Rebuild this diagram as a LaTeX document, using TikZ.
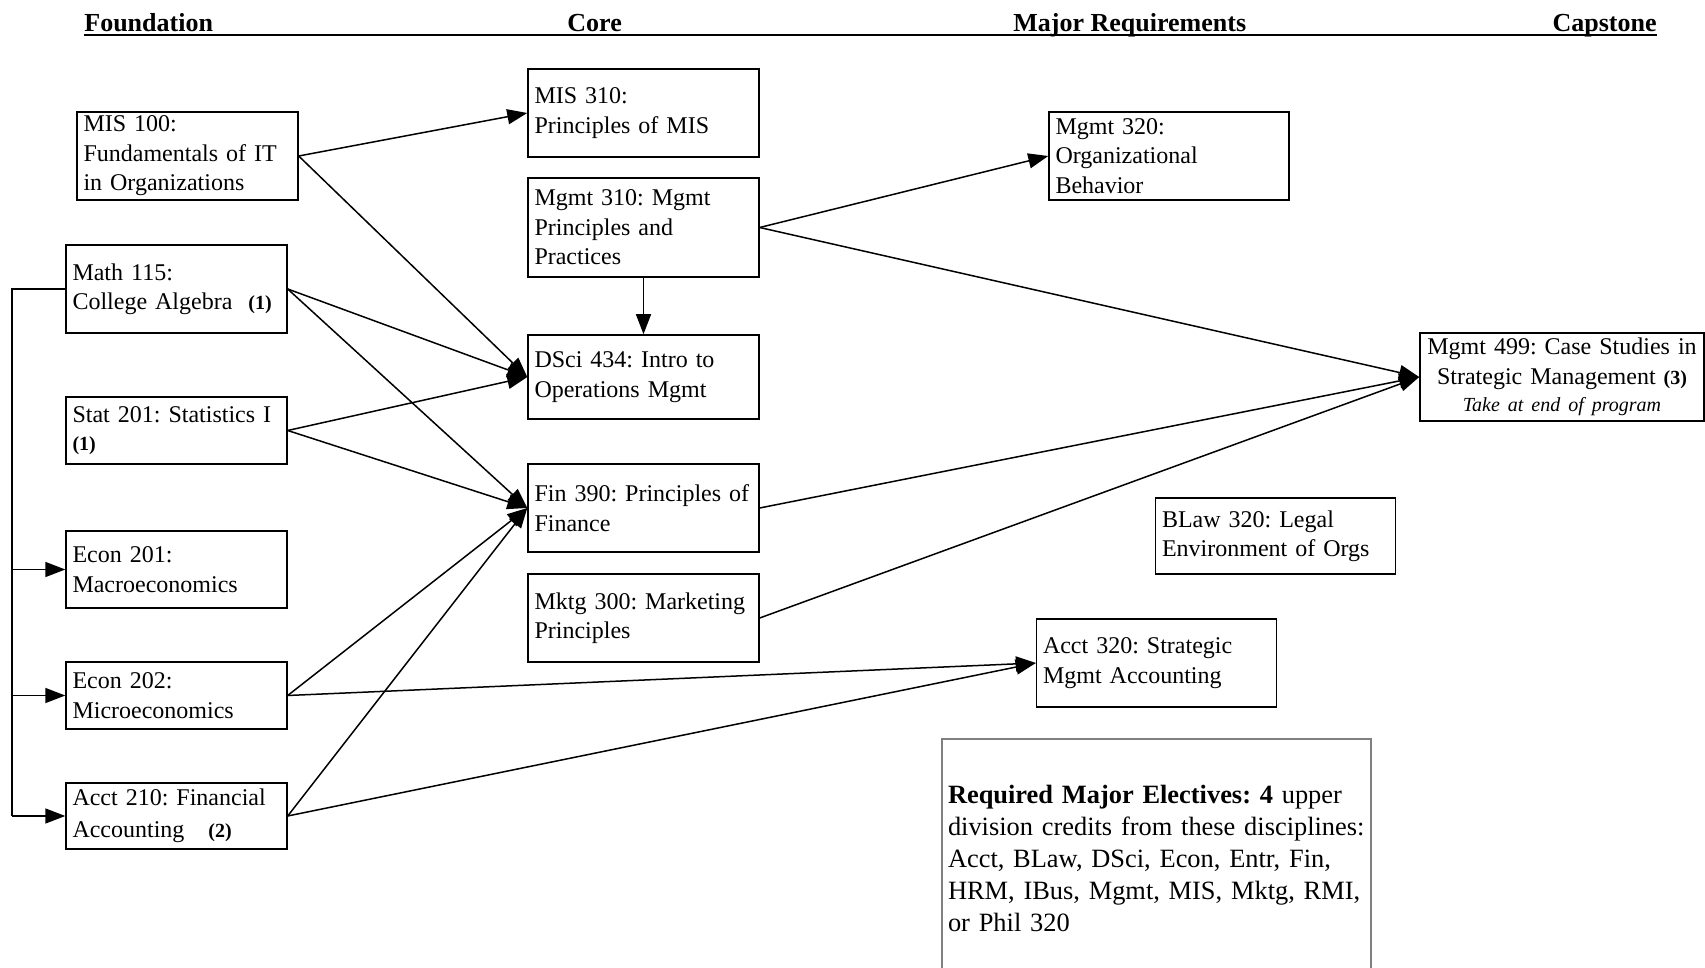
\documentclass[tikz,border=0pt]{standalone}
\usepackage{fontspec}
\setmainfont{Liberation Serif}
\usetikzlibrary{arrows.meta}
\frenchspacing

\tikzset{
  course/.style={draw, line width=0.8pt, align=left, inner xsep=3.2pt, inner ysep=0pt,
    font=\fontsize{12}{14.7}\selectfont},
  found/.style={course, text width=104pt, minimum height=#1},
  core/.style={course, text width=109pt, minimum height=#1},
  major/.style={course, text width=113.5pt, minimum height=#1},
  head/.style={inner sep=0pt, font=\bfseries\fontsize{13}{15}\selectfont},
  link/.style={line width=0.75pt},
  arr/.style={link, -{Triangle[length=10pt,width=7.5pt]}},
}
\newcommand{\cnt}[1]{\textbf{\fontsize{10}{12}\selectfont(#1)}}

\begin{document}
\begin{tikzpicture}[x=0.5pt,y=-0.5pt]
  \useasboundingbox (0,0) rectangle (1705,968);
  \clip (0,0) rectangle (1705,968);

  % column headings
  \node[head, anchor=base west] (hfound) at (84,32) {Foundation};
  \node[head, anchor=base west] (hcore) at (567,32) {Core};
  \node[head, anchor=base west] (hmajor) at (1013,32) {Major Requirements};
  \node[head, anchor=base east] (hcap) at (1657,32) {Capstone};
  \draw[line width=1pt] ([yshift=-1.6pt]hfound.base west) -- ([yshift=-1.6pt]hcap.base east);

  % foundation
  \node[found=44pt] (mis100) at (187.5,156) {MIS 100:\\Fundamentals of IT\\in Organizations};
  \node[found=44pt] (math115) at (176.5,289) {Math 115:\\College Algebra~ \cnt{1}};
  \node[found=33.5pt] (stat201) at (176.5,430.5) {Stat 201: Statistics I\\[-1pt]\cnt{1}};
  \node[found=38.5pt] (econ201) at (176.5,569.5) {Econ 201:\\Macroeconomics};
  \node[found=33.5pt] (econ202) at (176.5,695.5) {Econ 202:\\Microeconomics};
  \node[found=33pt] (acct210) at (176.5,816) {Acct 210: Financial\\[1.5pt]Accounting~~ \cnt{2}};

  % core
  \node[core=44pt] (mis310) at (643.5,113) {MIS 310:\\Principles of MIS};
  \node[core=49.5pt] (mgmt310) at (643.5,227.5) {Mgmt 310: Mgmt\\Principles and\\Practices};
  \node[core=42pt] (dsci434) at (643.5,377) {DSci 434: Intro to\\Operations Mgmt};
  \node[core=44pt] (fin390) at (643.5,508) {Fin 390: Principles of\\Finance};
  \node[core=44pt] (mktg300) at (643.5,618) {Mktg 300: Marketing\\Principles};

  % major requirements
  \node[major=44pt] (mgmt320) at (1169,156) {Mgmt 320:\\Organizational\\Behavior};
  \node[major=38pt] (blaw320) at (1275.5,536) {BLaw 320: Legal\\Environment of Orgs};
  \node[major=44pt] (acct320) at (1156.5,663) {Acct 320: Strategic\\Mgmt Accounting};
  \node[draw=gray, line width=0.6pt, align=left, text width=208.5pt, inner xsep=3pt,
    minimum height=119pt, font=\fontsize{13.2}{16}\selectfont] (electives) at (1156.5,858)
    {\textbf{Required Major Electives: 4} upper\\division credits from these disciplines:\\
     Acct, BLaw, DSci, Econ, Entr, Fin,\\HRM, IBus, Mgmt, MIS, Mktg, RMI,\\or Phil 320};

  % capstone
  \node[course, align=center, text width=139pt, inner xsep=1.5pt, minimum height=44pt] (mgmt499) at (1562,377)
    {Mgmt 499: Case Studies in\\Strategic Management \cnt{3}\\[-1pt]
     {\itshape\fontsize{10}{12}\selectfont Take at end of program}};

  % prerequisite arrows
  \foreach \a/\b in {mis100/mis310, mis100/dsci434, math115/dsci434, math115/fin390,
      stat201/dsci434, stat201/fin390, econ202/fin390, acct210/fin390,
      econ202/acct320, acct210/acct320, mgmt310/mgmt320, mgmt310/mgmt499,
      fin390/mgmt499, mktg300/mgmt499}
    \draw[arr] (\a.east) -- (\b.west);
  \draw[arr] (mgmt310.south) -- (dsci434.north);

  % left rail from Math 115
  \coordinate (railtop) at (12,289);
  \coordinate (railbot) at (12,816);
  \draw[link] (math115.west) -- (railtop) -- (railbot);
  \foreach \n in {econ201,econ202,acct210}
    \draw[arr] (railtop |- \n.west) -- (\n.west);
\end{tikzpicture}
\end{document}
